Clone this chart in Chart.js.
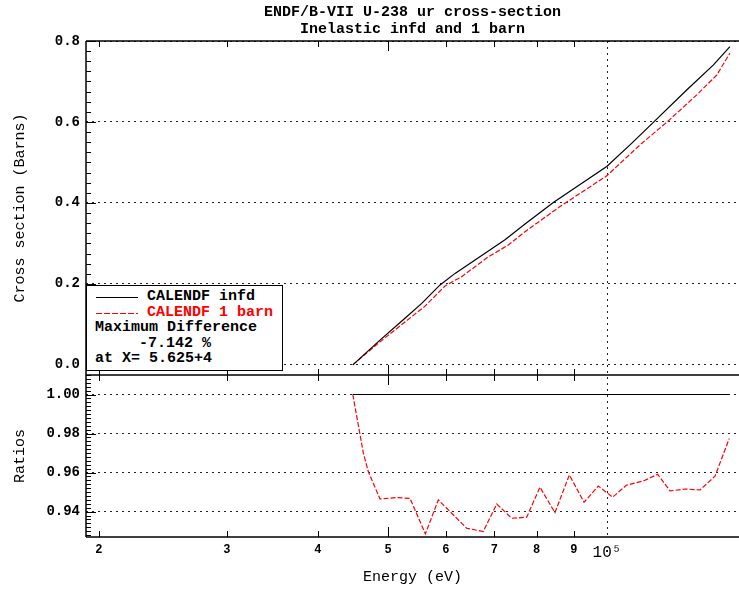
<!DOCTYPE html>
<html>
<head>
<meta charset="utf-8">
<script src="https://cdn.jsdelivr.net/npm/chart.js@4"></script>
<style>
  body { margin: 0; background: #fff; }
  #wrap { position: relative; width: 739px; height: 589px; }
  #chart { position: absolute; left: 0; top: 0; }
  #legendBox {
    position: absolute; left: 86px; top: 285px; width: 197px; height: 86px;
    border: 1.5px solid #000; background: #fff; box-sizing: border-box;
    font: bold 15px 'Liberation Mono', monospace; color: #000;
  }
  #legendBox span { position: absolute; white-space: pre; line-height: 16px; }
  #legendBox .sample { position: absolute; height: 1px; width: 42px; }
</style>
</head>
<body>
<div id="wrap">
  <canvas id="chart" width="739" height="589"></canvas>
  <div id="legendBox">
    <div class="sample" style="left:9px; top:11px; background:#000;"></div>
    <span style="left:60px; top:3px;">CALENDF infd</span>
    <div class="sample" style="left:9px; top:27px; background:repeating-linear-gradient(90deg, #f00 0 6px, transparent 6px 8px);"></div>
    <span style="left:60px; top:19px; color:#f00;">CALENDF 1 barn</span>
    <span style="left:8px; top:34px;">Maximum Difference</span>
    <span style="left:52px; top:50px;">-7.142 %</span>
    <span style="left:8px; top:65px;">at X= 5.625+4</span>
  </div>
</div>
<script>
document.addEventListener('DOMContentLoaded', function() {
    // top panel: cross sections (barns) vs energy (eV)
    const infdEnergy = [44700, 48460, 52730, 55610, 58930, 61800, 67960, 72390, 77130, 84360, 99910, 108100, 115800, 128700, 140100, 147600];
    const infdXs = [0, 0.0575, 0.115, 0.152, 0.1975, 0.226, 0.276, 0.309, 0.348, 0.401, 0.490, 0.547, 0.599, 0.679, 0.741, 0.786];

    const barnEnergy = [44700, 48460, 52730, 56190, 59870, 63110, 68680, 73150, 77130, 86150, 99910, 111600, 120800, 132900, 141600, 147600];
    const barnXs = [0, 0.0535, 0.106, 0.145, 0.195, 0.218, 0.267, 0.296, 0.329, 0.391, 0.467, 0.547, 0.599, 0.667, 0.716, 0.770];

    // bottom panel: ratios
    const ratioEnergy = [44700, 46220, 46960, 48720, 51370, 53580, 56250, 58610, 64120, 67560, 70520, 73950, 77530, 80860, 84800, 88760, 92980, 97270, 101800, 106400, 112200, 117400, 122100, 128100, 134300, 140800, 147300];
    const ratioBarn = [1.000, 0.970, 0.9604, 0.9465, 0.9472, 0.9468, 0.9286, 0.946, 0.9315, 0.9298, 0.9439, 0.9366, 0.9371, 0.9525, 0.9395, 0.9588, 0.9448, 0.9531, 0.9474, 0.9536, 0.9557, 0.9591, 0.9506, 0.9516, 0.9511, 0.9582, 0.9775];
    const ratioInfdEnergy = [44700, 147300];
    const ratioInfd = [1.0, 1.0];

    // axis ticks
    const xTickValues = [20000, 30000, 40000, 50000, 60000, 70000, 80000, 90000, 100000];
    const xTickLabels = ['2', '3', '4', '5', '6', '7', '8', '9', '10\u2075'];
    const yTopTicks = [0, 0.2, 0.4, 0.6, 0.8];
    const yTopLabels = ['0.0', '0.2', '0.4', '0.6', '0.8'];
    const yBotTicks = [0.94, 0.96, 0.98, 1.00];
    const yBotLabels = ['0.94', '0.96', '0.98', '1.00'];

    const MONO = "'Liberation Mono', 'DejaVu Sans Mono', monospace";
    Chart.defaults.font.family = MONO;
    Chart.defaults.color = '#000';

    function pts(xs, ys) {
        return xs.map((x, i) => ({ x: x, y: ys[i] }));
    }

    const framePlugin = {
        id: 'frame',
        afterDraw(chart) {
            const ctx = chart.ctx;
            const xs = chart.scales.x, yt = chart.scales.y, yb = chart.scales.y2;
            const L = chart.chartArea.left, R = chart.chartArea.right;
            const top = yt.top, mid = yt.bottom, bot = yb.bottom;
            ctx.save();
            ctx.strokeStyle = '#000';
            ctx.lineWidth = 1.5;
            function seg(x1, y1, x2, y2) {
                ctx.beginPath(); ctx.moveTo(x1, y1); ctx.lineTo(x2, y2); ctx.stroke();
            }
            seg(L, top, R, top);
            seg(L, mid, R, mid);
            seg(L, bot, R, bot);
            seg(L, top, L, bot);

            ctx.lineWidth = 1;
            // x ticks on panel edges
            xTickValues.forEach(v => {
                if (v >= 100000) return;
                const px = Math.round(xs.getPixelForValue(v)) + 0.5;
                const len = v === 50000 ? 10 : 6;
                seg(px, top, px, top + len);
                seg(px, mid, px, mid - len);
                seg(px, mid, px, mid + len);
                seg(px, bot, px, bot - len);
            });
            // y minor/major ticks, top panel
            for (let i = -1; i <= 32; i++) {
                const v = i * 0.025;
                const py = Math.round(yt.getPixelForValue(v)) + 0.5;
                const len = i % 8 === 0 ? 10 : 5;
                seg(L, py, L + len, py);
            }
            // bottom panel
            for (let i = 464; i <= 505; i++) {
                const v = i * 0.002;
                const py = Math.round(yb.getPixelForValue(v)) + 0.5;
                if (py < mid || py > bot) continue;
                const len = i % 10 === 0 ? 10 : 5;
                seg(L, py, L + len, py);
            }
            ctx.restore();
        }
    };

    const dotted = { dash: [2, 4], display: false };

    new Chart(document.getElementById('chart').getContext('2d'), {
        type: 'line',
        data: {
            datasets: [
                {
                    label: 'CALENDF infd',
                    data: pts(infdEnergy, infdXs),
                    yAxisID: 'y',
                    borderColor: '#000',
                    borderWidth: 1.2,
                    pointRadius: 0,
                    tension: 0
                },
                {
                    label: 'CALENDF 1 barn',
                    data: pts(barnEnergy, barnXs),
                    yAxisID: 'y',
                    borderColor: '#ff0000',
                    borderWidth: 1.2,
                    borderDash: [5, 2],
                    pointRadius: 0,
                    tension: 0
                },
                {
                    label: 'ratio infd',
                    data: pts(ratioInfdEnergy, ratioInfd),
                    yAxisID: 'y2',
                    borderColor: '#000',
                    borderWidth: 1.2,
                    pointRadius: 0
                },
                {
                    label: 'ratio 1 barn',
                    data: pts(ratioEnergy, ratioBarn),
                    yAxisID: 'y2',
                    borderColor: '#ff0000',
                    borderWidth: 1.2,
                    borderDash: [5, 2],
                    pointRadius: 0,
                    tension: 0
                }
            ]
        },
        options: {
            responsive: false,
            animation: false,
            layout: { padding: { left: 0, right: 0, top: 0, bottom: 0 } },
            plugins: {
                legend: { display: false },
                tooltip: { enabled: false },
                title: {
                    display: true,
                    fullSize: false,
                    text: ['ENDF/B-VII U-238 ur cross-section', 'Inelastic infd and 1 barn'],
                    color: '#000',
                    font: { family: MONO, size: 15, weight: 'bold', lineHeight: 1.1 },
                    padding: { top: 4, bottom: 4 }
                }
            },
            scales: {
                x: {
                    type: 'logarithmic',
                    min: 19200,
                    max: 151900,
                    afterBuildTicks: s => { s.ticks = xTickValues.map(v => ({ value: v })); },
                    afterFit: s => { s.height = 52; },
                    grid: {
                        drawTicks: false,
                        color: c => (c.tick && c.tick.value === 100000) ? '#222' : 'rgba(0,0,0,0)',
                        lineWidth: 1
                    },
                    border: dotted,
                    ticks: {
                        autoSkip: false,
                        maxRotation: 0,
                        padding: 6,
                        color: '#000',
                        font: c => (c.tick && c.tick.value === 100000)
                            ? { family: MONO, size: 16, weight: 'normal' }
                            : { family: MONO, size: 12, weight: 'bold' },
                        callback: (v, i) => xTickLabels[i]
                    },
                    title: {
                        display: true,
                        text: 'Energy (eV)',
                        color: '#000',
                        font: { family: MONO, size: 15 },
                        padding: { top: 0, bottom: 3 }
                    }
                },
                y2: {
                    type: 'linear',
                    position: 'left',
                    stack: 'panels',
                    stackWeight: 162,
                    min: 0.927,
                    max: 1.01,
                    afterBuildTicks: s => { s.ticks = yBotTicks.map(v => ({ value: v })); },
                    afterFit: s => { s.width = 86; },
                    grid: { drawTicks: false, color: '#222', lineWidth: 1 },
                    border: dotted,
                    ticks: {
                        padding: 6,
                        color: '#000',
                        font: { family: MONO, size: 14, weight: 'bold' },
                        callback: (v, i) => yBotLabels[i]
                    },
                    title: {
                        display: true,
                        text: 'Ratios',
                        color: '#000',
                        font: { family: MONO, size: 15 },
                        padding: { top: 11, bottom: 0 }
                    }
                },
                y: {
                    type: 'linear',
                    position: 'left',
                    stack: 'panels',
                    stackWeight: 334,
                    min: -0.025,
                    max: 0.8,
                    afterBuildTicks: s => { s.ticks = yTopTicks.map(v => ({ value: v })); },
                    afterFit: s => { s.width = 86; },
                    grid: { drawTicks: false, color: '#222', lineWidth: 1 },
                    border: dotted,
                    ticks: {
                        padding: 6,
                        color: '#000',
                        font: { family: MONO, size: 14, weight: 'bold' },
                        callback: (v, i) => yTopLabels[i]
                    },
                    title: {
                        display: true,
                        text: 'Cross section (Barns)',
                        color: '#000',
                        font: { family: MONO, size: 15 },
                        padding: { top: 11, bottom: 0 }
                    }
                }
            }
        },
        plugins: [framePlugin]
    });
});
</script>
</body>
</html>
